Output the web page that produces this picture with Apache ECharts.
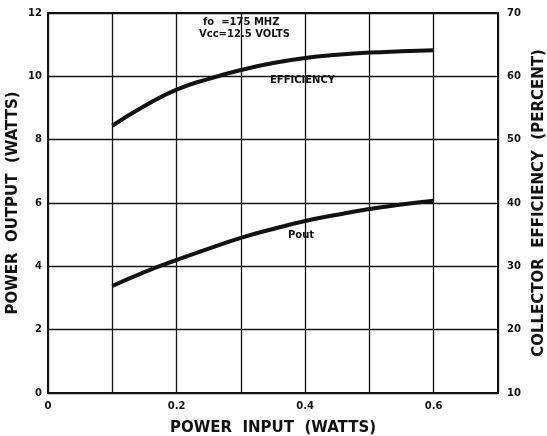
<!DOCTYPE html>
<html>
<head>
<meta charset="utf-8">
<script src="https://cdn.jsdelivr.net/npm/echarts@6/dist/echarts.min.js"></script>
<style>
  html, body { margin: 0; padding: 0; background: #fff; }
  #chart { width: 547px; height: 436px; }
</style>
</head>
<body>
<div id="chart"></div>
<script>
  // power input (watts)
  const powerInput = [0.1, 0.15, 0.2, 0.25, 0.3, 0.35, 0.4, 0.45, 0.5, 0.55, 0.6];
  // power output (watts), left axis
  const powerOutput = [3.38, 3.82, 4.2, 4.56, 4.9, 5.18, 5.43, 5.63, 5.81, 5.95, 6.07];
  // collector efficiency (percent), right axis
  const efficiency = [52.2, 55.3, 57.9, 59.6, 61.0, 62.1, 62.9, 63.4, 63.75, 63.95, 64.1];

  const xLabels = ['0', '0.2', '0.4', '0.6'];

  const ink = '#111';
  const font = '"DejaVu Sans", "Liberation Sans", sans-serif';

  const chart = echarts.init(document.getElementById('chart'));

  const option = {
    animation: false,
    backgroundColor: '#fff',
    grid: {
      left: 48, right: 49, top: 13, bottom: 43,
      outerBoundsMode: 'none',
      show: true, borderColor: ink, borderWidth: 2
    },
    xAxis: {
      type: 'value',
      min: 0,
      max: 0.7,
      interval: 0.1,
      name: 'POWER  INPUT  (WATTS)',
      nameLocation: 'middle',
      nameGap: 28,
      nameTextStyle: { color: ink, fontFamily: font, fontWeight: 'bold', fontSize: 15 },
      axisLine: { show: false },
      axisTick: { show: false },
      axisLabel: {
        color: ink, fontFamily: font, fontWeight: 'bold', fontSize: 10, margin: 8,
        formatter: function (v) {
          const k = Math.round(v * 10);
          return k % 2 === 0 ? xLabels[k / 2] || '' : '';
        }
      },
      splitLine: { lineStyle: { color: ink, width: 1.3 } }
    },
    yAxis: [
      {
        type: 'value',
        min: 0,
        max: 12,
        interval: 2,
        name: 'POWER  OUTPUT  (WATTS)',
        nameLocation: 'middle',
        nameGap: 27,
        nameMoveOverlap: false,
        nameTextStyle: { color: ink, fontFamily: font, fontWeight: 'bold', fontSize: 15 },
        axisLine: { show: false },
        axisTick: { show: false },
        axisLabel: { color: ink, fontFamily: font, fontWeight: 'bold', fontSize: 10, margin: 6 },
        splitLine: { lineStyle: { color: ink, width: 1.3 } }
      },
      {
        type: 'value',
        min: 10,
        max: 70,
        interval: 10,
        position: 'right',
        name: 'COLLECTOR  EFFICIENCY  (PERCENT)',
        nameLocation: 'middle',
        nameGap: 32,
        nameRotate: 90,
        nameTextStyle: { color: ink, fontFamily: font, fontWeight: 'bold', fontSize: 15 },
        axisLine: { show: false },
        axisTick: { show: false },
        axisLabel: { color: ink, fontFamily: font, fontWeight: 'bold', fontSize: 10, margin: 9 },
        splitLine: { show: false }
      }
    ],
    graphic: [
      {
        type: 'text', left: 203, top: 17,
        style: { text: 'fo  =175 MHZ', fill: ink, font: 'bold 10px ' + font }
      },
      {
        type: 'text', left: 199, top: 29,
        style: { text: 'Vcc=12.5 VOLTS', fill: ink, font: 'bold 10px ' + font }
      },
      {
        type: 'text', left: 267, top: 74,
        style: { text: 'EFFICIENCY', fill: ink, font: 'bold 10px ' + font, backgroundColor: '#fff', padding: [1, 3] }
      },
      {
        type: 'text', left: 288, top: 230,
        style: { text: 'Pout', fill: ink, font: 'bold 10px ' + font }
      }
    ],
    series: [
      {
        name: 'Pout',
        type: 'line',
        yAxisIndex: 0,
        data: powerInput.map((x, i) => [x, powerOutput[i]]),
        smooth: 0.5,
        symbol: 'none',
        lineStyle: { color: ink, width: 4 }
      },
      {
        name: 'Efficiency',
        type: 'line',
        yAxisIndex: 1,
        data: powerInput.map((x, i) => [x, efficiency[i]]),
        smooth: 0.5,
        symbol: 'none',
        lineStyle: { color: ink, width: 4 }
      }
    ]
  };

  chart.setOption(option);
</script>
</body>
</html>
